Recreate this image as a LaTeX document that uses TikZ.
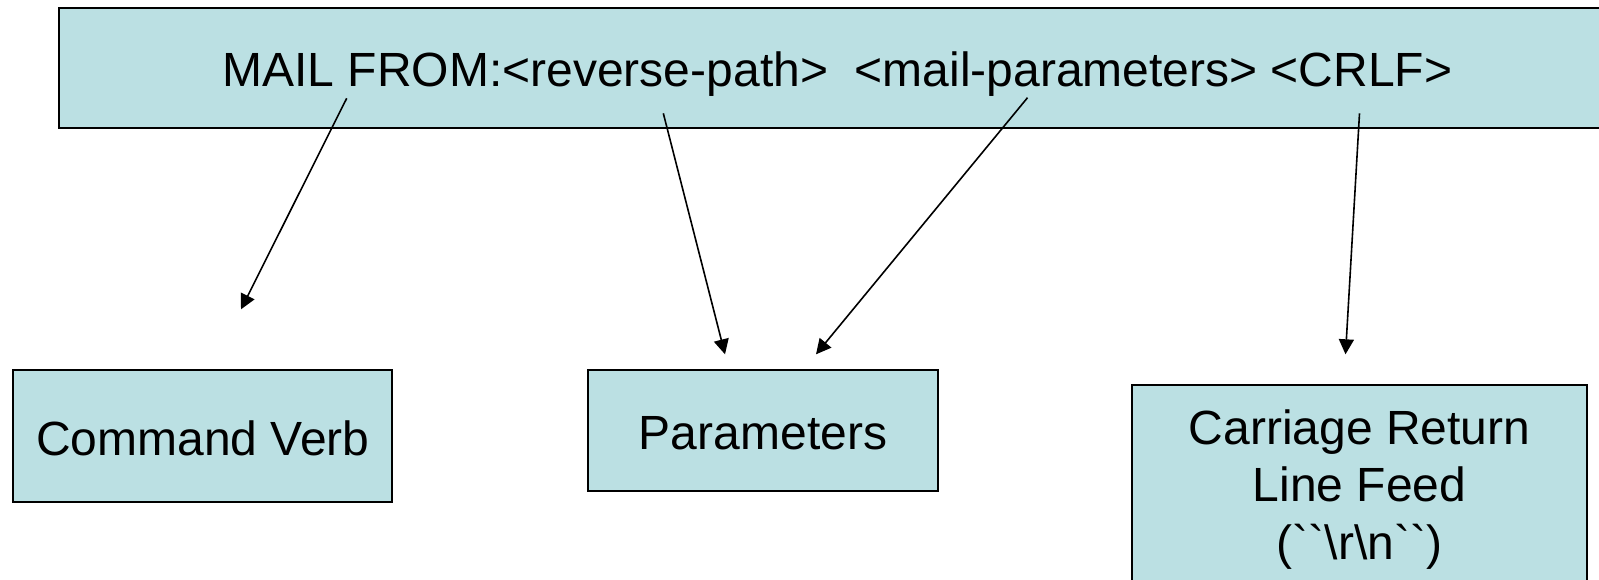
\documentclass[tikz,border=0pt]{standalone}
\usepackage{fontspec}
\newfontfamily\diagfont{Liberation Sans}
\usetikzlibrary{arrows.meta}
\definecolor{boxfill}{RGB}{187,224,227}

\begin{document}
\begin{tikzpicture}[x=0.5pt,y=-0.5pt,
  part/.style={draw=black, line width=1pt, fill=boxfill, inner sep=0pt,
               font=\diagfont\fontsize{24}{28.8}\selectfont},
  oneline/.style={text height=19pt, text depth=0pt},
  pointer/.style={-{Triangle[length=7.5pt,width=7.5pt]}, line width=0.8pt}]
\useasboundingbox (0,0) rectangle (1599,579);
\clip (0,0) rectangle (1599,579);

% the command line and its three parts
\node[part, oneline, minimum width=778.5pt, minimum height=60pt] (cmd)
  at (837.5,67.5) {MAIL FROM:<reverse-path> \ <mail-parameters> <CRLF>};
\node[part, oneline, minimum width=189.5pt, minimum height=66pt] (verb)
  at (202.8,436) {Command Verb};
\node[part, oneline, minimum width=174.7pt, minimum height=60.5pt] (params)
  at (763,430.5) {Parameters};
\node[part, align=center, minimum width=227.2pt, minimum height=104.5pt] (crlf)
  at (1359.5,489.5) {Carriage Return\\Line Feed\\(``\textbackslash r\textbackslash n``)};

% pointers from the pieces of the command line
\coordinate (fromVerb)   at (346.7,98.3);
\coordinate (toVerb)     at (241,309.3);
\coordinate (fromPath)   at (663.3,113.3);
\coordinate (toPathArg)  at (725,354.3);
\coordinate (fromMailPa) at (1027.5,97.7);
\coordinate (toMailPa)   at (816,354.3);
\coordinate (fromCrlf)   at (1359.5,113.3);
\coordinate (toCrlf)     at (1345.5,354.3);

\draw[pointer] (fromVerb) -- (toVerb);
\draw[pointer] (fromPath) -- (toPathArg);
\draw[pointer] (fromMailPa) -- (toMailPa);
\draw[pointer] (fromCrlf) -- (toCrlf);
\end{tikzpicture}
\end{document}
